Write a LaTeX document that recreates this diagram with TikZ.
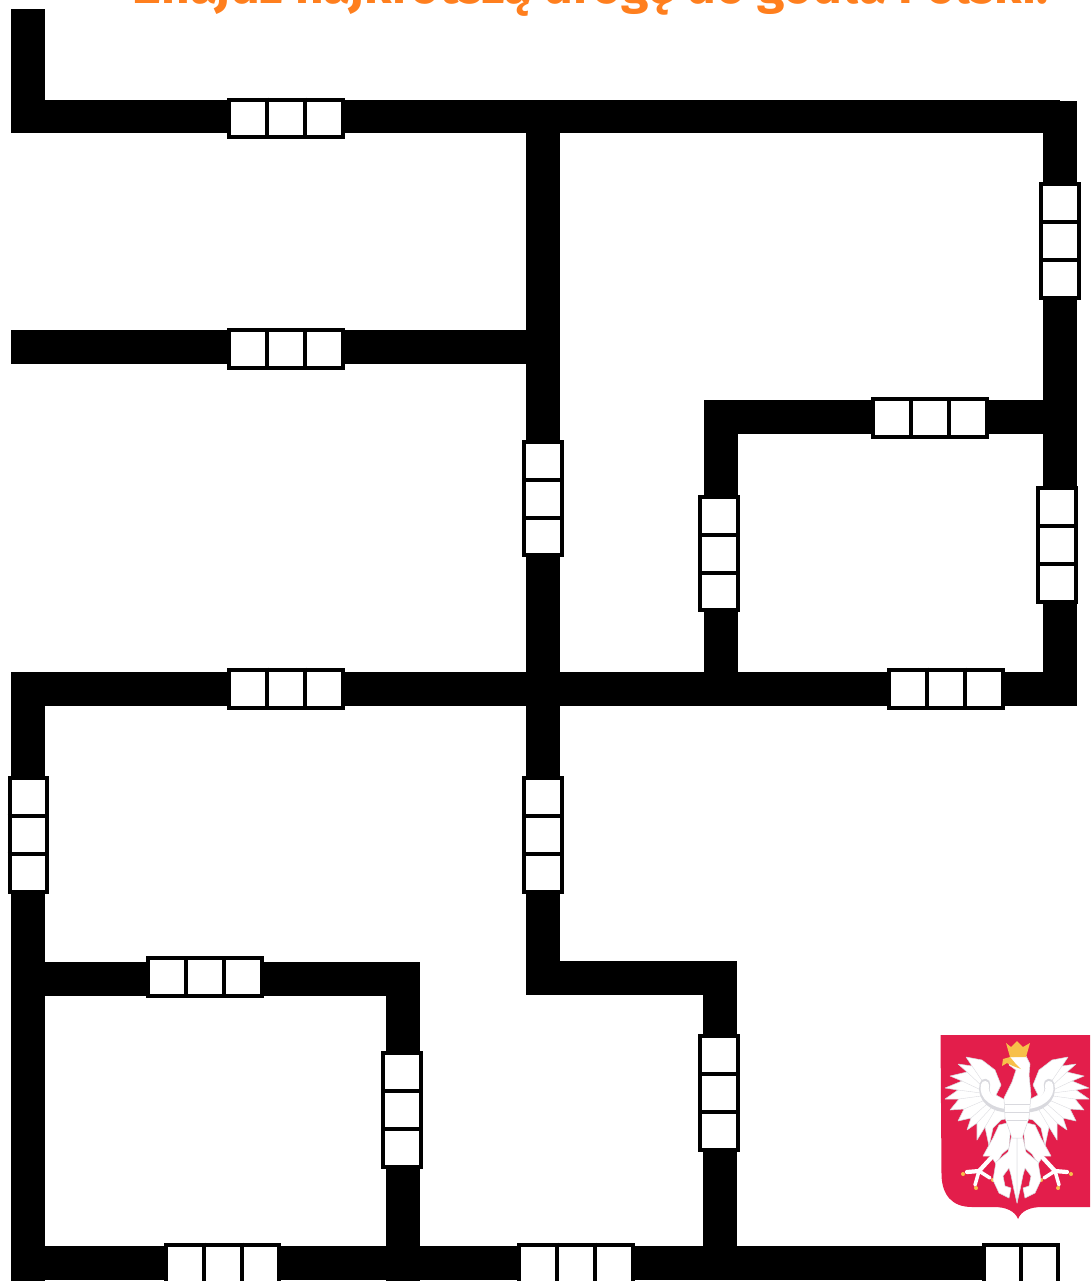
\documentclass[tikz,border=0pt]{standalone}
\usepackage{fontspec}
\setmainfont{Fira Sans}
\usetikzlibrary{calc}
\definecolor{titleorange}{HTML}{FF7F1E}
\definecolor{shieldred}{HTML}{E31E4B}
\definecolor{crowngold}{HTML}{F7C04A}
\definecolor{eaglegrey}{HTML}{D9D9DE}
\tikzset{
    road/.style={draw=black, line width=0.68cm, line join=miter},
    hgate/.style={draw, fill=white, line width=0.08cm, inner sep=0pt,
                  minimum width=2.28cm, minimum height=0.76cm},
    vgate/.style={draw, fill=white, line width=0.08cm, inner sep=0pt,
                  minimum width=0.76cm, minimum height=2.28cm},
    gateline/.style={line width=0.08cm},
    feather/.style={draw=eaglegrey, line width=0.2pt},
    eaglewhite/.style={fill=white, draw=eaglegrey, line width=0.3pt, line join=round},
    half eagle/.pic={
        % wing
        \path[eaglewhite] (-51,-33) -- (-45,-24) -- (-59,-26) -- (-50,-18) -- (-67,-14)
            -- (-55,-9) -- (-72,-2) -- (-59,0) -- (-72,9) -- (-58,9) -- (-67,20)
            -- (-53,19) -- (-59,31) -- (-46,28) -- (-50,40) -- (-40,33) -- (-40,50)
            -- (-32,37) -- (-28,56) -- (-24,38) -- (-16,30) -- (-8,28) -- (-8,12)
            -- (-21,5) -- (-16,-5) -- (-22,-20) -- (-35,-30) -- cycle;
        \draw[feather] (-32,-5) -- (-45,-24) (-34,-3) -- (-50,-18) (-36,0) -- (-55,-9)
            (-36,3) -- (-59,0) (-36,6) -- (-58,9) (-32,10) -- (-53,19) (-30,14) -- (-46,28)
            (-26,18) -- (-40,33) (-22,20) -- (-32,37);
        % arm
        \draw[line width=6pt, eaglegrey, line cap=round] (-32,-6) .. controls (-36,8) and (-22,18) .. (-8,17);
        \draw[line width=4.6pt, white, line cap=round] (-32,-5) .. controls (-35,6) and (-22,15) .. (-8,15);
        % thigh and leg
        \path[eaglewhite] (-6,32) -- (-18,35) -- (-24,48) -- (-34,66) -- (-26,66) -- (-21,74)
            -- (-15,64) -- (-8,58) -- cycle;
        \draw[white, line width=2.4pt, line cap=round] (-26,68) -- (-38,81) -- (-50,82);
        \draw[white, line width=2pt, line cap=round] (-38,81) -- (-27,88) (-38,81) -- (-42,95);
        \fill[crowngold] (-54,84) circle (2) (-24,90) circle (2) (-41,98) circle (2);
        % tail
        \path[eaglewhite] (-5,44) -- (-9,62) -- (-21,72) -- (-24,90) -- (-18,103) -- (-8,108)
            -- (-6,98) -- (-12,96) -- (-14,86) -- (-8,78) -- (-6,85) -- (-3,100)
            -- (0,113) -- (0,44) -- cycle;
    },
}
\newcommand{\hgate}[2]{
    \node[hgate] (#1) at (#2) {};
    \draw[gateline] ($(#1.north)+(-19,0)$) -- ($(#1.south)+(-19,0)$);
    \draw[gateline] ($(#1.north)+(19,0)$) -- ($(#1.south)+(19,0)$);
}
\newcommand{\vgate}[2]{
    \node[vgate] (#1) at (#2) {};
    \draw[gateline] ($(#1.west)+(0,-19)$) -- ($(#1.east)+(0,-19)$);
    \draw[gateline] ($(#1.west)+(0,19)$) -- ($(#1.east)+(0,19)$);
}

\begin{document}
\begin{tikzpicture}[x=0.02cm, y=-0.02cm]
    \useasboundingbox (0,0) rectangle (1090,1281);

    \node[anchor=base, inner sep=0pt, font=\fontsize{28.3}{28.3}\selectfont\bfseries, text=titleorange]
        (title) at (591.5,4) {Znajdź najkrótszą drogę do godła Polski.};

    % junctions
    \coordinate (start) at (28,9);
    \coordinate (topleft) at (28,116.5);
    \coordinate (topmid) at (543,116.5);
    \coordinate (topright) at (1059.5,116.5);
    \coordinate (rightstart) at (1059.5,101);
    \coordinate (upperend) at (11,347);
    \coordinate (uppermid) at (543,347);
    \coordinate (innerright) at (1059.5,417);
    \coordinate (innerleft) at (721,417);
    \coordinate (midleft) at (28,689);
    \coordinate (midcross) at (543,689);
    \coordinate (midinner) at (721,689);
    \coordinate (midright) at (1059.5,689);
    \coordinate (lowleft) at (28,979);
    \coordinate (lowright) at (403,979);
    \coordinate (stepleft) at (543,978);
    \coordinate (stepright) at (720,978);
    \coordinate (botleft) at (28,1263);
    \coordinate (botroom) at (403,1263);
    \coordinate (botstep) at (720,1263);
    \coordinate (botend) at (1000,1263);
    \coordinate (bottom) at (28,1290);
    \coordinate (botroomend) at (403,1290);

    % roads
    \draw[road] (start) -- (topleft) -- (topright);
    \draw[road] (topmid) -- (midcross);
    \draw[road] (upperend) -- (uppermid);
    \draw[road] (rightstart) -- (midright) -- (midleft) -- (bottom);
    \draw[road] (innerright) -- (innerleft) -- (midinner);
    \draw[road] (lowleft) -- (lowright) -- (botroomend);
    \draw[road] (midcross) -- (stepleft) -- (stepright) -- (botstep);
    \draw[road] (botleft) -- (botend);

    % gates
    \hgate{gatetop}{286,118.5}
    \hgate{gateupper}{286,349}
    \hgate{gatemid}{286,688.5}
    \hgate{gateinner}{930,418}
    \hgate{gateright}{946,688.5}
    \hgate{gateroom}{205,977}
    \hgate{gatebotleft}{222.5,1263.5}
    \hgate{gatebotmid}{576,1263.5}
    \vgate{gatefarright}{1060,241}
    \vgate{gatecentre}{543,498.5}
    \vgate{gatehall}{719,553.5}
    \vgate{gateside}{1057,545}
    \vgate{gateleft}{28.5,835}
    \vgate{gatedown}{543,835}
    \vgate{gateroomside}{402,1110}
    \vgate{gatestep}{719,1093}
    \node[draw, fill=white, line width=0.08cm, inner sep=0pt, minimum width=1.48cm, minimum height=0.76cm]
        (gateend) at (1021,1263.5) {};
    \draw[gateline] (gateend.north) -- (gateend.south);

    % shield
    \fill[shieldred] (940.5,1035) -- (1090,1035) -- (1090,1207) -- (1042,1207)
        .. controls (1030,1207) and (1021,1211) .. (1018,1219)
        .. controls (1015,1211) and (1006,1207) .. (994,1207) -- (972,1207)
        .. controls (952,1207) and (942,1195) .. (941.5,1175) -- cycle;
    \pic at (1017,1090) {half eagle};
    \pic[xscale=-1] at (1017,1090) {half eagle};
    % head and body
    \begin{scope}[shift={(1017,1090)}]
        \path[eaglewhite] (-7,-33) -- (9,-34) -- (13,-26) -- (12,-15) -- (14,5) -- (12,28) -- (5,48)
            -- (-5,48) -- (-12,28) -- (-13,8) -- (-5,-8) -- (-1,-20) -- (-8,-25) -- cycle;
        \draw[feather] (-12,14) -- (13,14) (-12,22) -- (12,22) (-10,30) -- (10,30);
        \fill[crowngold] (-15,-24) -- (-14,-31) -- (-7,-33) -- (-2,-27) -- (4,-21) -- (-4,-24) -- (-10,-27) -- cycle;
        \fill[crowngold] (-11,-47) -- (-6,-43) -- (0,-49) -- (6,-43) -- (13,-47) -- (9,-33) -- (-7,-33) -- cycle;
    \end{scope}
\end{tikzpicture}
\end{document}
